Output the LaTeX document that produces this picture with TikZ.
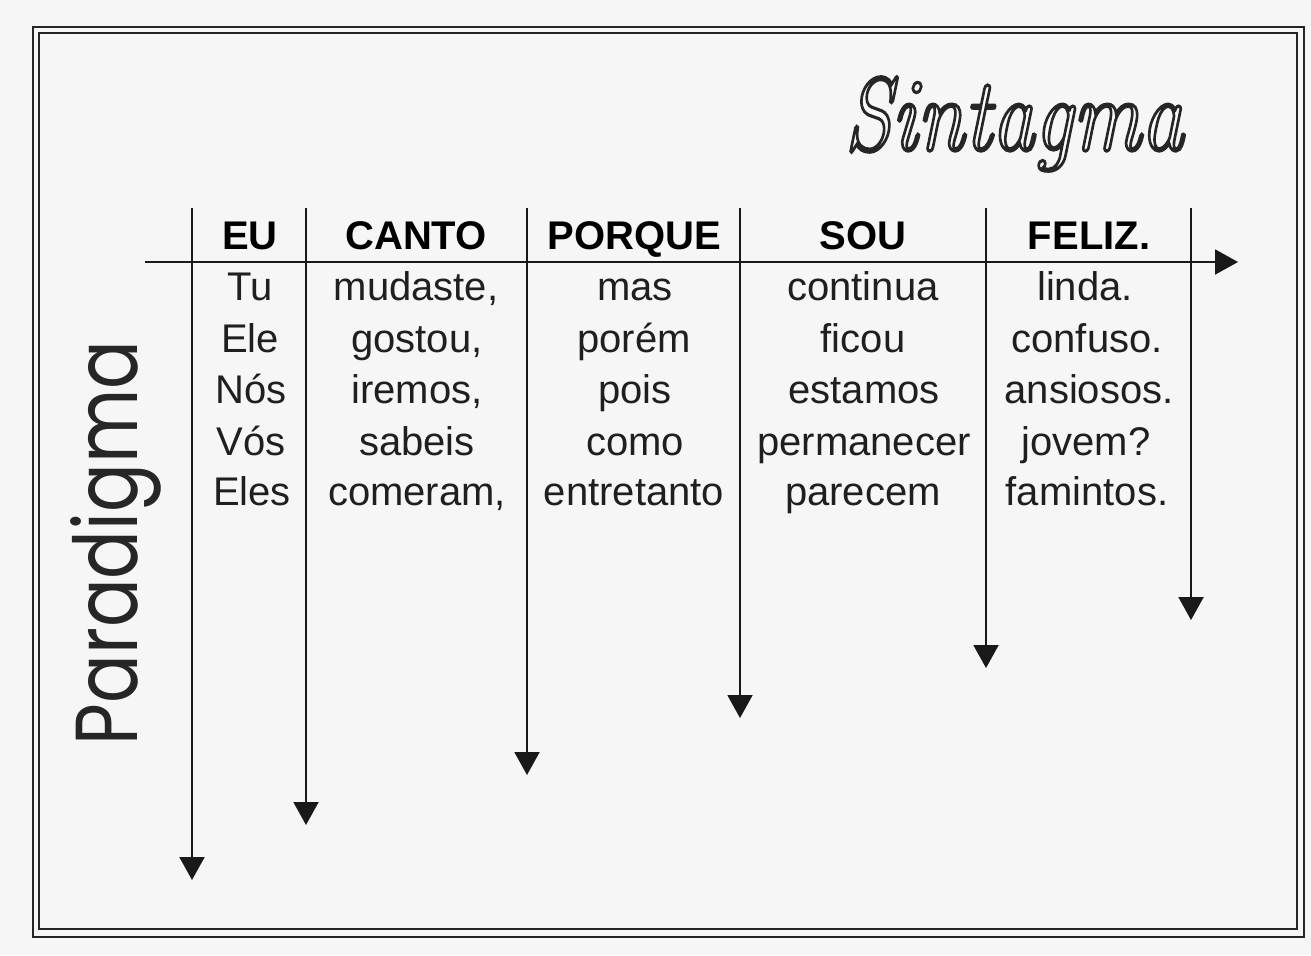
\documentclass[tikz,border=0pt]{standalone}
\usepackage{fontspec}
\usepackage{graphicx}
\usetikzlibrary{arrows.meta,calc}
\newfontfamily\arialfont{Liberation Sans}
\newfontfamily\paradfont{Poppins}
\newcommand\outlinedtext[1]{{\color{gray!4}\special{pdf:literal direct 0.15 G 2 Tr 1.6 w}#1\special{pdf:literal direct 0 Tr 0 G}}}
\tikzset{
  framebox/.style={draw=black!85, line width=1.1pt},
  conn/.style={draw=black!90, line width=1pt, -{Triangle[length=11.5pt,width=12.5pt]}},
  head/.style={font=\arialfont\bfseries\fontsize{20}{22}\selectfont, anchor=base, inner sep=0pt},
  word/.style={font=\arialfont\fontsize{20}{22}\selectfont, text=black!88, anchor=base, inner sep=0pt},
  sint/.style={font=\fontsize{52}{54}\selectfont\itshape, anchor=base, inner sep=0pt},
}
\begin{document}
\begin{tikzpicture}[x=0.5pt,y=-0.5pt]
\fill[gray!7] (0,0) rectangle (1311,955);
\useasboundingbox (0,0) rectangle (1311,955);
% double frame
\draw[framebox] (33,27) rectangle (1304,937);
\draw[framebox] (39,33) rectangle (1297,929);
% title Sintagma (outlined)
\node[sint] (sintagma) at (1014,150) {\scalebox{0.82}[1]{\outlinedtext{Sintagma}}};
% Paradigma
\node[font=\paradfont\fontsize{44}{46}\selectfont, text=black!85, rotate=90, anchor=base, inner sep=0pt]
  (paradigma) at (137,543) {\scalebox{0.82}[1]{Paradigma}};
% axis
\coordinate (hs) at (145,262);
\coordinate (he) at (1238,262);
\draw[conn] (hs) -- (he);
% column arrows
\foreach \n/\x/\y in {1/192/880, 2/306/825, 3/527/775, 4/740/718, 5/986/668, 6/1191/620}{
  \coordinate (v\n s) at (\x,208);
  \coordinate (v\n e) at (\x,\y);
  \draw[conn] (v\n s) -- (v\n e);
}
% headers
\node[head] (h1) at (250,249) {EU};
\node[head] (h2) at (416,249) {CANTO};
\node[head] (h3) at (634,249) {PORQUE};
\node[head] (h4) at (863,249) {SOU};
\node[head] (h5) at (1089,249) {FELIZ.};
% column 1
\node[word] (a1) at (250,300) {Tu};
\node[word] (a2) at (250,352) {Ele};
\node[word] (a3) at (251,403) {Nós};
\node[word] (a4) at (251,455) {Vós};
\node[word] (a5) at (252,505) {Eles};
% column 2
\node[word] (b1) at (416,300) {mudaste,};
\node[word] (b2) at (417,352) {gostou,};
\node[word] (b3) at (417,403) {iremos,};
\node[word] (b4) at (417,455) {sabeis};
\node[word] (b5) at (417,505) {comeram,};
% column 3
\node[word] (c1) at (635,300) {mas};
\node[word] (c2) at (634,352) {porém};
\node[word] (c3) at (635,403) {pois};
\node[word] (c4) at (635,455) {como};
\node[word] (c5) at (634,505) {entretanto};
% column 4
\node[word] (d1) at (863,300) {continua};
\node[word] (d2) at (863,352) {ficou};
\node[word] (d3) at (864,403) {estamos};
\node[word] (d4) at (864,455) {permanecer};
\node[word] (d5) at (863,505) {parecem};
% column 5
\node[word] (e1) at (1085,300) {linda.};
\node[word] (e2) at (1087,352) {confuso.};
\node[word] (e3) at (1089,403) {ansiosos.};
\node[word] (e4) at (1086,455) {jovem?};
\node[word] (e5) at (1087,505) {famintos.};
\end{tikzpicture}
\end{document}
